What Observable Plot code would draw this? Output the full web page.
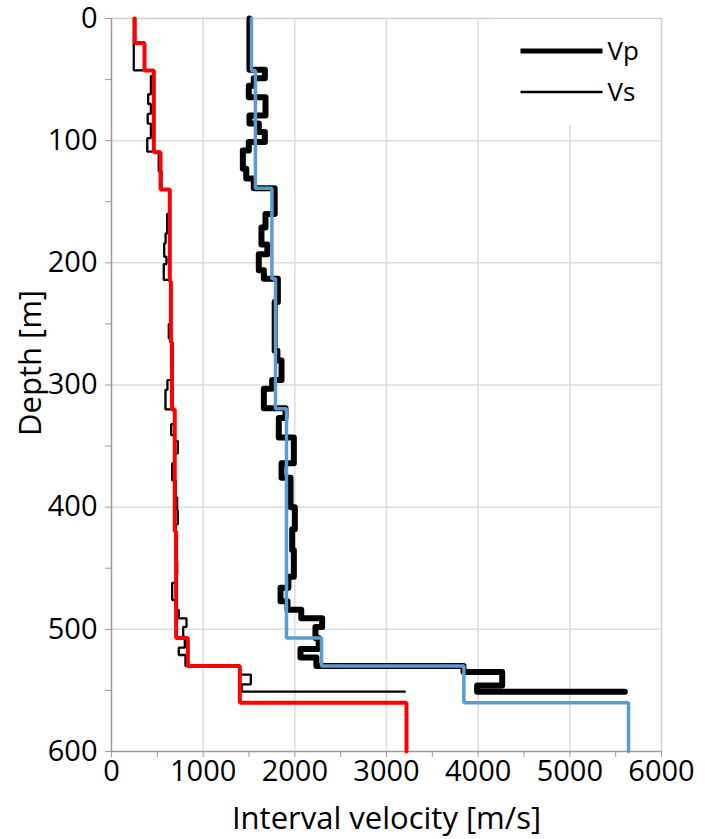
<!DOCTYPE html>
<html>
<head>
<meta charset="utf-8">
<script src="https://cdn.jsdelivr.net/npm/d3@7"></script>
<script src="https://cdn.jsdelivr.net/npm/@observablehq/plot@0.6"></script>
<style>
  html, body { margin: 0; padding: 0; background: #fff; }
  #chart { width: 705px; height: 839px; }
</style>
</head>
<body>
<div id="chart"></div>
<script>
// Measured P-wave interval velocity: layer tops [m] and velocities [m/s]
const vpTop = [0, 42, 49, 55, 64.5, 79.5, 86, 93, 101, 108, 123, 131, 139, 160, 171, 185, 193, 206, 213, 232, 272, 280, 296, 303, 319, 327, 343, 364, 376, 400, 418, 435, 457, 466, 477, 484, 491, 498, 507, 516, 523, 530, 535, 546, 551];
const vpVel = [1505, 1673, 1552, 1498, 1680, 1505, 1607, 1673, 1498, 1433, 1470, 1552, 1780, 1680, 1636, 1700, 1607, 1662, 1815, 1780, 1810, 1855, 1753, 1662, 1898, 1825, 1989, 1855, 1953, 2000, 1971, 1989, 1930, 1844, 1920, 2070, 2298, 2225, 2260, 2062, 2235, 3840, 4262, 3989, 5600];

// Measured S-wave interval velocity
const vsTop = [0, 42.5, 47, 62, 70, 78, 86, 98, 109, 125, 140, 160, 176, 184, 195, 201, 214, 250, 262, 288, 296, 304, 320, 332, 341, 346, 356, 364, 378, 392, 403, 414, 430, 444, 455, 462, 476, 484, 491, 498, 506, 515, 521, 530, 537, 545, 551];
const vsVel = [243, 462, 430, 400, 430, 395, 430, 390, 515, 545, 630, 607, 590, 575, 600, 570, 640, 625, 650, 660, 610, 589, 687, 651, 690, 724, 690, 662, 700, 716, 724, 700, 698, 716, 705, 662, 700, 734, 818, 782, 800, 734, 807, 1400, 1520, 1420, 3200];
const measuredBottom = 551;

// Layered velocity models
const vpModelTop = [0, 42.5, 139, 213, 319.5, 507, 530, 560];
const vpModelVel = [1527, 1570, 1750, 1789, 1909, 2291, 3844, 5640];
const vsModelTop = [0, 20, 42.5, 109.4, 140, 215, 265, 320, 420, 507, 530, 560];
const vsModelVel = [254, 360, 462, 535, 636, 648, 660, 690, 705, 833, 1400, 3218];
const modelBottom = 600;

// Axis ticks
const xTicks = [0, 500, 1000, 1500, 2000, 2500, 3000, 3500, 4000, 4500, 5000, 5500, 6000];
const xLabels = [0, 1000, 2000, 3000, 4000, 5000, 6000];
const yTicks = [0, 50, 100, 150, 200, 250, 300, 350, 400, 450, 500, 550, 600];
const yLabels = [0, 100, 200, 300, 400, 500, 600];
const xTitle = "Interval velocity [m/s]";
const yTitle = "Depth [m]";

const legendItems = [
  {name: "Vp", width: 5},
  {name: "Vs", width: 2.5}
];

// Turn layer tops + velocities into a stair-step path
function stairs(tops, vels, bottom) {
  return tops.flatMap((t, i) => [
    {v: vels[i], d: t},
    {v: vels[i], d: i + 1 < tops.length ? tops[i + 1] : bottom}
  ]);
}

const vpMeasured = stairs(vpTop, vpVel, measuredBottom);
const vsMeasured = stairs(vsTop, vsVel, measuredBottom);
const vpModel = stairs(vpModelTop, vpModelVel, modelBottom);
const vsModel = stairs(vsModelTop, vsModelVel, modelBottom);

const font = "'Open Sans', 'DejaVu Sans', sans-serif";
const gridColor = "#dcdcdc";
const axisColor = "#9a9a9a";

const chart = Plot.plot({
  width: 705,
  height: 839,
  marginLeft: 111,
  marginRight: 44,
  marginTop: 18,
  marginBottom: 88,
  style: {fontFamily: font, fontSize: "29px", background: "#fff", color: "#000"},
  x: {domain: [0, 6000]},
  y: {domain: [0, 600], reverse: true},
  marks: [
    Plot.gridX(xLabels.slice(1, -1), {stroke: gridColor, strokeOpacity: 1, strokeWidth: 1.5}),
    Plot.gridY(yLabels.slice(1, -1), {stroke: gridColor, strokeOpacity: 1, strokeWidth: 1.5}),
    Plot.ruleY([0], {stroke: "#cfcfcf", strokeWidth: 1.5}),
    Plot.ruleX([6000], {stroke: "#cfcfcf", strokeWidth: 1.5}),
    Plot.ruleX([0], {stroke: axisColor, strokeWidth: 1.5}),
    Plot.ruleY([600], {stroke: axisColor, strokeWidth: 1.5}),
    Plot.axisX(xTicks, {
      anchor: "bottom", tickSize: 6, tickPadding: 3, stroke: axisColor, fill: "#000", fontSize: 29,
      tickFormat: d => xLabels.includes(d) ? String(d) : "", label: null
    }),
    Plot.axisY(yTicks, {
      anchor: "left", tickSize: 6, tickPadding: 8, stroke: axisColor, fill: "#000", fontSize: 29,
      tickFormat: d => yLabels.includes(d) ? String(d) : "", label: null
    }),
    Plot.text([xTitle], {frameAnchor: "bottom", dy: 77, text: d => d, fontSize: 31, fill: "#000"}),
    Plot.text([yTitle], {frameAnchor: "left", textAnchor: "middle", dx: -80, dy: -22, rotate: -90, text: d => d, fontSize: 31, fill: "#000"}),
    Plot.line(vsMeasured, {x: "v", y: "d", stroke: "#000", strokeWidth: 2.3, strokeLinejoin: "miter"}),
    Plot.line(vpMeasured, {x: "v", y: "d", stroke: "#000", strokeWidth: 6, strokeLinejoin: "round", strokeLinecap: "round"}),
    Plot.line(vsModel, {x: "v", y: "d", stroke: "#ff0000", strokeWidth: 4, strokeLinejoin: "miter"}),
    Plot.line(vpModel, {x: "v", y: "d", stroke: "#5b9bd5", strokeWidth: 3.5, strokeLinejoin: "miter"})
  ]
});

document.getElementById("chart").appendChild(chart);

// Legend box in the upper right corner of the plot area
const svg = d3.select(chart.tagName.toLowerCase() === "svg" ? chart : chart.querySelector("svg"));
const xs = chart.scale("x"), ys = chart.scale("y");
const boxLeft = xs.apply(0) + (xs.apply(6000) - xs.apply(0)) * 0.69;
const boxRight = xs.apply(6000) - 1;
const boxTop = ys.apply(0) + 1;
const boxBottom = ys.apply(0) + 107;
const legend = svg.append("g")
  .attr("font-family", font).attr("font-size", 26).attr("text-anchor", "start");
legend.append("rect")
  .attr("x", boxLeft).attr("y", boxTop)
  .attr("width", boxRight - boxLeft).attr("height", boxBottom - boxTop)
  .attr("fill", "#fff");
legendItems.forEach((item, i) => {
  const yy = boxTop + 32 + i * 41;
  legend.append("line")
    .attr("x1", boxLeft + 30).attr("x2", boxLeft + 112)
    .attr("y1", yy).attr("y2", yy)
    .attr("stroke", "#000").attr("stroke-width", item.width);
  legend.append("text")
    .attr("x", boxLeft + 117).attr("y", yy).attr("dy", "0.35em")
    .attr("fill", "#000").text(item.name);
});
</script>
</body>
</html>
